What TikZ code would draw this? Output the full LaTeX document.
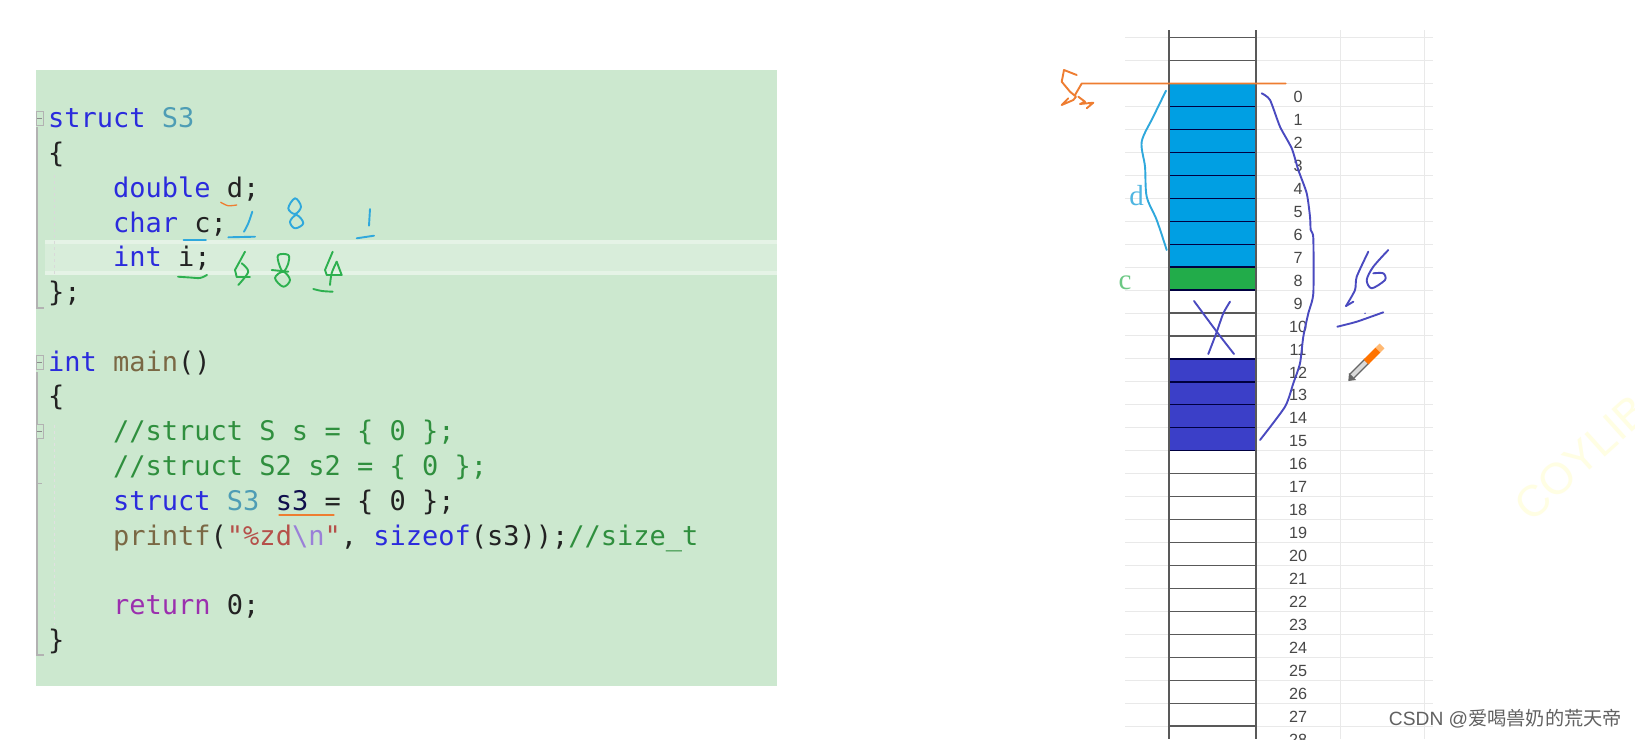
\documentclass[tikz,border=0pt]{standalone}
\usepackage{fontspec}
\setmainfont{Liberation Sans}
\newfontfamily\codef{DejaVu Sans Mono}
\newfontfamily\serifhand{Liberation Serif}
\newfontfamily\cjkf{Noto Sans CJK SC}
\definecolor{panel}{HTML}{CCE8CF}
\definecolor{band}{HTML}{D8EDDA}
\definecolor{bandedge}{HTML}{E5F3E6}
\definecolor{kw}{HTML}{2B2BDD}
\definecolor{ty}{HTML}{4E9DB5}
\definecolor{cm}{HTML}{2F8F3E}
\definecolor{str}{HTML}{B5504A}
\definecolor{esc}{HTML}{9A80D8}
\definecolor{fn}{HTML}{7A6844}
\definecolor{rt}{HTML}{9B2FAE}
\definecolor{ink}{HTML}{222222}
\definecolor{penorange}{HTML}{EE7D31}
\definecolor{penblue}{HTML}{2FA8DC}
\definecolor{pengreen}{HTML}{2DB04F}
\definecolor{penviolet}{HTML}{4A4AC0}
\definecolor{cellblue}{HTML}{009FE3}
\definecolor{cellgreen}{HTML}{22AC4A}
\definecolor{cellviolet}{HTML}{3B3FC8}
\definecolor{sheet}{HTML}{E9E9E9}
\tikzset{
  codeline/.style={anchor=base west,inner sep=0pt,font=\codef\fontsize{27}{30}\selectfont,text=ink},
  rownum/.style={inner sep=0pt,font=\fontsize{16.2}{18}\selectfont,text=black!72},
  pen/.style={line width=1.9pt,line cap=round,line join=round},
  gutter/.style={draw=black!30,line width=1.4pt},
  sheetline/.style={draw=sheet,line width=1pt},
  cellline/.style={draw=black!65,line width=1.3pt},
  hand/.style={inner sep=0pt,font=\serifhand\fontsize{29}{32}\selectfont},
}
\begin{document}
\begin{tikzpicture}[x=1pt,y=-1pt]
\useasboundingbox[fill=white] (0,0) rectangle (1635,739);
% faint page watermark
\node[rotate=42,inner sep=0pt,anchor=west,text=yellow!11!white,font=\fontsize{44}{48}\selectfont] (mark) at (1521,512) {COYLIB};
% code panel
\fill[panel] (36,70) rectangle (777,686);
\fill[band] (45,240) rectangle (777,275);
\draw[bandedge,line width=4pt] (45,242) -- (777,242) (45,273) -- (777,273);
\draw[gutter] (37,127) -- (37,308) -- (44,308);
\draw[gutter] (37,372) -- (37,655) -- (44,655);
\draw[gutter,line width=.8pt] (36,483) -- (42,483);
\foreach \yy in {111,355,424}{
  \draw[black!30,line width=.8pt,fill=panel] (36,\yy) rectangle (43,\yy+14);
  \draw[black!45,line width=.8pt] (37,\yy+7) -- (42,\yy+7);
}
\draw[black!15,dashed,line width=.7pt] (54,175) -- (54,275);
\draw[black!12,dashed,line width=.7pt] (54,425) -- (54,625);
% code
\node[codeline] (l1) at (48,127) {\textcolor{kw}{struct} \textcolor{ty}{S3}};
\node[codeline] (l2) at (48,162) {\{};
\node[codeline] (l3) at (113,197) {\textcolor{kw}{double} d;};
\node[codeline] (l4) at (113,232) {\textcolor{kw}{char} c;};
\node[codeline] (l5) at (113,266) {\textcolor{kw}{int} i;};
\node[codeline] (l6) at (48,301) {\};};
\node[codeline] (l7) at (48,371) {\textcolor{kw}{int} \textcolor{fn}{main}()};
\node[codeline] (l8) at (48,405) {\{};
\node[codeline] (l9) at (113,440) {\textcolor{cm}{//struct S s = \{ 0 \};}};
\node[codeline] (l10) at (113,475) {\textcolor{cm}{//struct S2 s2 = \{ 0 \};}};
\node[codeline] (l11) at (113,510) {\textcolor{kw}{struct} \textcolor{ty}{S3} \textcolor{black!65!kw}{s3} = \{ 0 \};};
\node[codeline] (l12) at (113,545) {\textcolor{fn}{printf}(\textcolor{str}{"\%zd}\textcolor{esc}{\textbackslash n}\textcolor{str}{"}, \textcolor{kw}{sizeof}(s3));\textcolor{cm}{//size\_t}};
\node[codeline] (l13) at (113,614) {\textcolor{rt}{return} 0;};
\node[codeline] (l14) at (48,649) {\}};
% handwriting on the code
\draw[pen,penorange,line width=1.3pt] plot[smooth] coordinates {(220.7,202.3)(228,205.7)(236.7,205)};
\draw[pen,penorange,line width=1.3pt] (279,515) -- (334,515);
\draw[pen,penblue] (183.5,240) -- (206,240);
\draw[pen,penblue] plot[smooth,tension=.5] coordinates {(252.3,211.7)(248.3,223.3)(244,231.7)};
\draw[pen,penblue] (228.3,237.3) -- (255,236.7);
\draw[pen,penblue] plot[smooth cycle,tension=.6] coordinates {(295,198.3)(301,206.7)(295,214)(288.3,208.3)};
\draw[pen,penblue] plot[smooth cycle,tension=.6] coordinates {(296.7,215)(303.3,223.3)(295,228.3)(290,221.7)};
\draw[pen,penblue] (370,209) -- (369,225.7);
\draw[pen,penblue] (356.7,238.3) -- (374,235.7);
\draw[pen,pengreen] plot[smooth] coordinates {(178,276.7)(190,277.5)(200,278)(207,275)};
\draw[pen,pengreen] (245,251.7) -- (235,270) -- (236.7,277) -- (250,277);
\draw[pen,pengreen] plot[smooth,tension=.5] coordinates {(241.7,263.3)(248.3,271.7)(238.3,285)};
\draw[pen,pengreen] plot[smooth cycle,tension=.6] coordinates {(278.3,255)(288.3,255)(288.3,263.3)(283.3,271.7)(279,264)};
\draw[pen,pengreen] plot[smooth cycle,tension=.6] coordinates {(283.3,271.7)(290,280)(283.3,286.7)(275,278)};
\draw[pen,pengreen] (271.7,270) -- (288.3,271.7);
\draw[pen,pengreen] (332.7,251.7) -- (325,270) -- (326.7,275) -- (341.7,275) -- (336.7,261.7);
\draw[pen,pengreen] plot[smooth,tension=.5] coordinates {(336.7,261.7)(331.7,273)(330,285)};
\draw[pen,pengreen] plot[smooth] coordinates {(313.3,289)(322,291)(332.7,291.7)};
% spreadsheet behind the stack
\foreach \n in {-2,...,28}{
  \draw[sheetline] (1125,83.5+22.95*\n) -- (1433,83.5+22.95*\n);
}
\draw[sheetline] (1340,30) -- (1340,739);
\draw[sheetline] (1424,30) -- (1424,739);
% memory stack
\fill[cellblue] (1169,83.5) rectangle (1256,267.1);
\fill[cellgreen] (1169,267.1) rectangle (1256,290);
\fill[cellviolet] (1169,359) rectangle (1256,450.7);
\foreach \n in {-2,-1,10,11,17,18,...,28}{
  \draw[cellline] (1169,83.5+22.95*\n) -- (1256,83.5+22.95*\n);
}
\foreach \n in {1,...,9,12,13,14,15,16}{
  \draw[cellline,draw=black!75!blue] (1169,83.5+22.95*\n) -- (1256,83.5+22.95*\n);
}
\draw[cellline] (1169,30) -- (1169,739);
\draw[cellline] (1256,30) -- (1256,739);
\foreach \n in {0,...,28}{
  \node[rownum] (row\n) at (1298,97+22.95*\n) {\n};
}
% handwriting on the stack
\draw[pen,penorange] (1075,95) -- (1081.7,83.5) -- (1285.7,83.5);
\draw[pen,penorange] (1076.7,75) -- (1064,70) -- (1061.7,81.7) -- (1070,91.7) -- (1076,96.7) -- (1073.3,100) -- (1061.7,105) -- (1068.3,98.3);
\draw[pen,penorange] (1078.3,96.7) -- (1085,101.7) -- (1080,104) -- (1093.3,102.7) -- (1086.7,108.3);
\draw[pen,penblue] plot[smooth] coordinates {(1166,90.7)(1153.3,116.7)(1141.7,141.7)(1145,166.7)(1146.7,196.7)(1156.7,220)(1166.7,250)};
\node[hand,text=penblue!85!white] (dlabel) at (1136.7,196) {d};
\node[hand,text=pengreen!70!white] (clabel) at (1125,283) {c};
\draw[pen,penviolet] plot[smooth,tension=.4] coordinates {(1261.7,93.3)(1270,100)(1280,126.7)(1291.7,148.3)(1298.3,170)(1306.7,193.3)(1310,216.7)(1310.7,230)(1313.3,238.3)(1313.3,293.3)(1308.3,313.3)(1303.3,336.7)(1300,363.3)(1293.3,383.3)(1285,406.7)(1260,440)};
\draw[pen,penviolet] plot[smooth,tension=.4] coordinates {(1194,301)(1216.7,331.7)(1234,354)};
\draw[pen,penviolet] plot[smooth,tension=.4] coordinates {(1230,301.7)(1223.3,313.3)(1216.7,332)(1208.3,354)};
\draw[pen,penviolet] plot[smooth,tension=.4] coordinates {(1368.3,251.7)(1356.7,276.7)(1355,290)(1346,306)};
\draw[pen,penviolet] (1346,306) -- (1353.3,301.7);
\draw[pen,penviolet] plot[smooth,tension=.5] coordinates {(1388.3,250)(1373.3,266.7)(1366.7,280)(1371.7,288.3)(1385,280)(1383.3,273.3)(1373.3,273.3)};
\draw[pen,penviolet] plot[smooth,tension=.4] coordinates {(1337.3,326.7)(1356.7,321.7)(1383.3,312.3)};
\fill[penviolet] (1365,313.3) circle (.8);
% pencil
\draw[line width=7pt,black!60] (1352,376) -- (1367,361);
\draw[line width=4pt,black!15] (1352,376) -- (1366,362);
\draw[line width=7pt,orange!90!red] (1366,362) -- (1378,350);
\draw[line width=7pt,orange!55!white] (1378,350) -- (1382,346);
\fill[black!60] (1348.3,381) -- (1349,373) -- (1356,380) -- cycle;
% CSDN mark
\node[inner sep=0pt,anchor=east,text=black!62,font=\fontsize{19.2}{24}\selectfont] (csdn) at (1622,719) {CSDN @{\cjkf 爱喝兽奶的荒天帝}};
\end{tikzpicture}
\end{document}
